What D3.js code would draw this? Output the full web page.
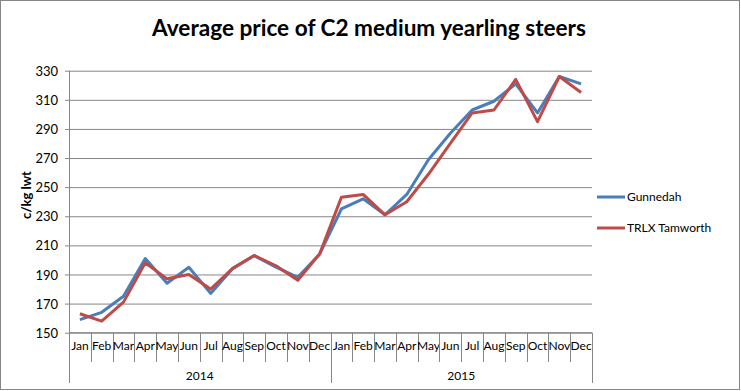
<!DOCTYPE html>
<html><head><meta charset="utf-8">
<script src="https://cdn.jsdelivr.net/npm/d3@7"></script>
<style>body{margin:0;background:#fff}svg{display:block}</style>
</head><body>
<script>
const months = ["Jan","Feb","Mar","Apr","May","Jun","Jul","Aug","Sep","Oct","Nov","Dec"];
const years = ["2014","2015"];
const gunnedah = [159,164,175,201,184,195,177,194,203,195,188,204, 235,242,231,245,269,287,303,309,321,301,326,321];
const tamworth = [163,158,171,198,187,190,180,194,203,196,186,204, 243,245,231,240,259,280,301,303,324,295,326,315];
const yTicks = [150,170,190,210,230,250,270,290,310,330];
const seriesNames = ["Gunnedah","TRLX Tamworth"];
const colors = ["#4A7EBB","#BE4B48"];

const W=741,H=391;
const L=69,R=592,T=70.7,B=332.7;
const svg=d3.select("body").append("svg").attr("width",W).attr("height",H);
svg.append("rect").attr("x",0.5).attr("y",0.5).attr("width",W-2).attr("height",H-2).attr("fill","#fff").attr("stroke","#868686");

const cats=[];years.forEach(y=>months.forEach(m=>cats.push(y+"-"+m)));
const x=d3.scaleBand().domain(cats).range([L,R]);
const y=d3.scaleLinear().domain([150,330]).range([B,T]);
const font="Lato, 'Open Sans', sans-serif";

svg.append("text").attr("x",369).attr("y",36).attr("text-anchor","middle")
  .attr("font-family",font).attr("font-weight","bold").attr("font-size",22.6).attr("fill","#000")
  .text("Average price of C2 medium yearling steers");

// grid
const ga=svg.append("g").attr("transform",`translate(${L},0)`)
  .call(d3.axisLeft(y).tickValues(yTicks).tickSize(-(R-L)).tickSizeOuter(0).tickPadding(8).tickFormat(d3.format("d")));
ga.select(".domain").remove();
ga.selectAll(".tick line").attr("stroke","#868686").attr("x1",-4);
ga.selectAll(".tick text").attr("font-family",font).attr("font-size",13).attr("fill","#000").attr("dy","0.35em").attr("x",-11);
svg.append("line").attr("x1",L+0.5).attr("x2",L+0.5).attr("y1",T).attr("y2",B).attr("stroke","#868686");

svg.append("text").attr("transform",`translate(31,195) rotate(-90)`).attr("text-anchor","middle")
  .attr("font-family",font).attr("font-weight","bold").attr("font-size",13).text("c/kg lwt");

// x axis
svg.append("line").attr("x1",L).attr("x2",R).attr("y1",B).attr("y2",B).attr("stroke","#868686");
cats.forEach((c,i)=>{
  const xb=x(c);
  const long=(i%12===0);
  svg.append("line").attr("x1",Math.round(xb)+0.5).attr("x2",Math.round(xb)+0.5).attr("y1",B).attr("y2",long?383:362).attr("stroke","#868686");
  svg.append("text").attr("x",xb+x.bandwidth()/2).attr("y",350).attr("text-anchor","middle")
    .attr("font-family",font).attr("font-size",12).attr("fill","#000").text(months[i%12]);
});
svg.append("line").attr("x1",Math.round(R)+0.5).attr("x2",Math.round(R)+0.5).attr("y1",B).attr("y2",383).attr("stroke","#868686");
years.forEach((yr,k)=>{
  const a=x(yr+"-Jan"),b=x(yr+"-Dec")+x.bandwidth();
  svg.append("text").attr("x",(a+b)/2).attr("y",380).attr("text-anchor","middle")
    .attr("font-family",font).attr("font-size",12).attr("fill","#000").text(yr);
});

const line=d3.line().x((d,i)=>x(cats[i])+x.bandwidth()/2).y(d=>y(d));
[gunnedah,tamworth].forEach((s,k)=>{
  svg.append("path").datum(s).attr("d",line).attr("fill","none").attr("stroke",colors[k]).attr("stroke-width",3).attr("stroke-linejoin","round");
});

// legend
seriesNames.forEach((n,k)=>{
  const ly=197+k*31;
  svg.append("line").attr("x1",597).attr("x2",625).attr("y1",ly).attr("y2",ly).attr("stroke",colors[k]).attr("stroke-width",3);
  svg.append("text").attr("x",627).attr("y",ly).attr("dy","0.35em").attr("font-family",font).attr("font-size",12).text(n);
});
</script>
</body></html>
